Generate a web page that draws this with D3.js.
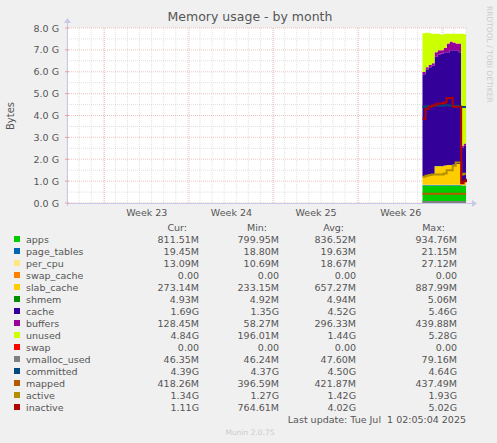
<!DOCTYPE html>
<html><head><meta charset="utf-8">
<script src="https://cdn.jsdelivr.net/npm/d3@7"></script>
<style>body{margin:0;background:#f0f0f0}text{font-family:"DejaVu Sans",sans-serif}</style>
</head><body>
<svg id="c" width="497" height="443"></svg>
<script>
// sample times in days since start of the plotted month
const times = [29.4,29.65,29.9,30.15,30.4,30.65,30.9,31.15,31.4,31.65,31.9,32.15,32.4,32.6,32.8,33.0];
// stacked areas, GiB
const apps       = [0.80,0.80,0.80,0.80,0.80,0.80,0.80,0.80,0.80,0.80,0.80,0.80,0.80,0.78,0.78,0.78];
const pageTables = [0.02,0.02,0.02,0.02,0.02,0.02,0.02,0.02,0.02,0.02,0.02,0.02,0.02,0.02,0.02,0.02];
const perCpu     = [0.013,0.013,0.013,0.013,0.013,0.013,0.013,0.013,0.013,0.013,0.013,0.013,0.013,0.013,0.013,0.013];
const swapCache  = [0,0,0,0,0,0,0,0,0,0,0,0,0,0,0,0];
const slabCache  = [0.40,0.42,0.45,0.45,0.85,0.85,0.85,0.88,0.90,0.90,0.92,0.95,0.95,0.15,0.15,0.15];
const shmem      = [0.005,0.005,0.005,0.005,0.005,0.005,0.005,0.005,0.005,0.005,0.005,0.005,0.005,0.005,0.005,0.005];
const cache      = [4.65,4.85,4.92,5.0,5.0,5.1,5.15,5.17,5.15,5.25,5.23,5.2,5.1,1.55,1.65,1.65];
const buffers    = [0.10,0.10,0.10,0.10,0.20,0.20,0.15,0.20,0.40,0.40,0.35,0.30,0.40,0.10,0.10,0.10];
const unused     = [1.77,1.57,1.45,1.35,0.85,0.75,0.70,0.65,0.45,0.35,0.40,0.45,0.45,5.12,5.00,5.00];
const swap       = [0,0,0,0,0,0,0,0,0,0,0,0,0,0,0,0];
// line series, GiB
const vmallocUsed = [0.05,0.05,0.05,0.05,0.05,0.05,0.05,0.05,0.05,0.05,0.05,0.05,0.05,0.05,0.05,0.05];
const committed   = [4.40,4.42,4.42,4.45,4.45,4.45,4.45,4.47,4.47,4.45,4.45,4.45,4.40,4.39,4.39,4.39];
const mapped      = [0.42,0.42,0.42,0.42,0.42,0.42,0.42,0.42,0.42,0.42,0.42,0.42,0.42,0.42,0.42,0.42];
const active      = [1.20,1.25,1.28,1.30,1.30,1.30,1.30,1.35,1.50,1.50,1.70,1.85,1.85,1.30,1.34,1.34];
const inactive    = [3.85,4.30,4.40,4.45,4.50,4.55,4.55,4.60,4.80,4.80,4.40,4.40,4.40,0.90,1.00,1.11];

const names = ["apps","page_tables","per_cpu","swap_cache","slab_cache","shmem","cache","buffers","unused","swap","vmalloc_used","committed","mapped","active","inactive"];
const colors = ["#00cc00","#0066b3","#ffe680","#ff8000","#ffcc00","#008f00","#330099","#990099","#ccff00","#ff0000","#808080","#00487d","#b35a00","#b38f00","#b30000"];
const curV = ["811.51M","19.45M","13.09M","0.00","273.14M","4.93M","1.69G","128.45M","4.84G","0.00","46.35M","4.39G","418.26M","1.34G","1.11G"];
const minV = ["799.95M","18.80M","10.69M","0.00","233.15M","4.92M","1.35G","58.27M","196.01M","0.00","46.24M","4.37G","396.59M","1.27G","764.61M"];
const avgV = ["836.52M","19.63M","18.67M","0.00","657.27M","4.94M","4.52G","296.33M","1.44G","0.00","47.60M","4.50G","421.87M","1.42G","4.02G"];
const maxV = ["934.76M","21.15M","27.12M","0.00","887.99M","5.06M","5.46G","439.88M","5.28G","0.00","79.16M","4.64G","437.49M","1.93G","5.02G"];
const weekTicks = [{d:6.6,l:"Week 23"},{d:13.6,l:"Week 24"},{d:20.6,l:"Week 25"},{d:27.6,l:"Week 26"}];
const weekLines = [3.1,10.1,17.1,24.1,31.1];

const stackSeries = [apps,pageTables,perCpu,swapCache,slabCache,shmem,cache,buffers,unused,swap];
const lineSeries = [vmallocUsed,committed,mapped,active,inactive];

const svg = d3.select("#c");
const L = 67, R = 466, T = 28, B = 203;
const x = d3.scaleLinear().domain([0,33]).range([L,R]);
const y = d3.scaleLinear().domain([0,8]).range([B,T]);

svg.append("rect").attr("x",L).attr("y",T).attr("width",R-L).attr("height",B-T).attr("fill","#fff");

// grid
const g = svg.append("g");
d3.range(0,33.01,1).forEach(d => g.append("line").attr("x1",x(d)).attr("x2",x(d)).attr("y1",T).attr("y2",B)
  .attr("stroke","#ccc").attr("stroke-width",0.6).attr("stroke-dasharray","1,1"));
d3.range(0,8.01,0.5).forEach(v => g.append("line").attr("x1",L).attr("x2",R).attr("y1",y(v)).attr("y2",y(v))
  .attr("stroke", v % 1 === 0 ? "#e8a0a0" : "#ccc").attr("stroke-width",0.6).attr("stroke-dasharray","1,1"));
weekLines.forEach(d => g.append("line").attr("x1",x(d)).attr("x2",x(d)).attr("y1",T).attr("y2",B)
  .attr("stroke","#e8a0a0").attr("stroke-width",0.6).attr("stroke-dasharray","1,1"));

// stacked areas
const rows = times.map((t,i) => { const o = {t}; stackSeries.forEach((s,k) => o[k] = s[i]); return o; });
const stack = d3.stack().keys(d3.range(stackSeries.length))(rows);
const area = d3.area().curve(d3.curveStepAfter).x(d => x(d.data.t)).y0(d => y(d[0])).y1(d => y(d[1]));
svg.append("g").selectAll("path").data(stack).join("path")
  .attr("d",area).attr("fill",(d,i) => colors[i]);

const line = d3.line().curve(d3.curveStepAfter).x((d,i) => x(times[i])).y(d => y(d));
lineSeries.forEach((s,k) => svg.append("path").attr("d",line(s)).attr("fill","none")
  .attr("stroke",colors[10+k]).attr("stroke-width",2));

// axes
svg.append("line").attr("x1",L).attr("x2",R+6).attr("y1",B+0.5).attr("y2",B+0.5).attr("stroke","#c8c8e8");
svg.append("line").attr("x1",L+0.5).attr("x2",L+0.5).attr("y1",B+3).attr("y2",T-6).attr("stroke","#c8c8e8");
svg.append("path").attr("d",`M${R+6},${B-3}L${R+11},${B+0.5}L${R+6},${B+4}Z`).attr("fill","#c8c8e8");
svg.append("path").attr("d",`M${L-3},${T-5}L${L+0.5},${T-10}L${L+4},${T-5}Z`).attr("fill","#c8c8e8");
d3.range(0,8.01,1).forEach(v => {
  svg.append("line").attr("x1",L-2).attr("x2",L+2).attr("y1",y(v)).attr("y2",y(v)).attr("stroke","#e8a0a0");
  svg.append("text").attr("x",L-8).attr("y",y(v)+3.5).attr("text-anchor","end")
    .attr("font-size",9.5).attr("fill","#555").text(v.toFixed(1)+" G");
});
weekTicks.forEach(w => svg.append("text").attr("x",x(w.d)).attr("y",216).attr("text-anchor","middle")
  .attr("font-size",9.5).attr("fill","#555").text(w.l));

svg.append("text").attr("x",250).attr("y",21).attr("text-anchor","middle").attr("font-size",12.5).attr("fill","#555").text("Memory usage - by month");
svg.append("text").attr("transform","translate(14,116) rotate(-90)").attr("text-anchor","middle").attr("font-size",10).attr("fill","#555").text("Bytes");
svg.append("text").attr("transform","translate(487,6) rotate(90)").attr("font-size",7.5).attr("fill","#ccc").text("RRDTOOL / TOBI OETIKER");

// legend
const mono = "DejaVu Sans Mono, monospace";
const lg = svg.append("g").attr("font-family",mono).attr("font-size",9.5).attr("fill","#555");
[["Cur:",199],["Min:",279],["Avg:",356],["Max:",457]].forEach(h =>
  lg.append("text").attr("x",h[1]-12).attr("y",231).attr("text-anchor","end").attr("font-family",mono).text(h[0]));
names.forEach((n,i) => {
  const yy = 243 + i*12;
  lg.append("rect").attr("x",14).attr("y",yy-7).attr("width",6).attr("height",6).attr("fill",colors[i]);
  lg.append("text").attr("x",26).attr("y",yy).attr("font-family",mono).text(n);
  [[curV,199],[minV,279],[avgV,356],[maxV,457]].forEach(c =>
    lg.append("text").attr("x",c[1]).attr("y",yy).attr("text-anchor","end").attr("font-family",mono).text(c[0][i]));
});
lg.append("text").attr("x",466).attr("y",423).attr("text-anchor","end").attr("font-family",mono).attr("xml:space","preserve").text("Last update: Tue Jul  1 02:05:04 2025");
svg.append("text").attr("x",250).attr("y",435).attr("text-anchor","middle").attr("font-size",7.5).attr("fill","#ccc").text("Munin 2.0.75");
</script>
</body></html>
